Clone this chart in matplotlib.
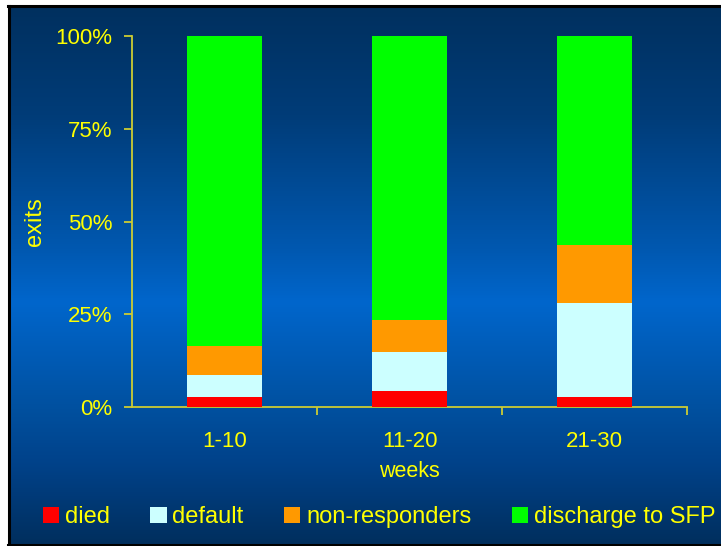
"""
Exits by week group, stacked 100% bars
"""

import numpy as np
import matplotlib
matplotlib.use("Agg")
import matplotlib.pyplot as plt
from matplotlib.colors import LinearSegmentedColormap
from matplotlib.patches import Patch
from matplotlib.lines import Line2D

# data (percent of exits)
weeks = ["1-10", "11-20", "21-30"]
died = [2.7, 4.3, 2.7]
default = [5.9, 10.5, 25.3]
non_responders = [7.8, 8.7, 15.7]
discharge = [83.6, 76.5, 56.3]

series_names = ["died", "default", "non-responders", "discharge to SFP"]
series_colors = ["#FF0000", "#CCFFFF", "#FF9900", "#00FF00"]

yellow = "#FFFF00"
axis_col = "#CCCC33"

plt.rcParams["font.family"] = ["Liberation Sans", "DejaVu Sans"]

fig = plt.figure(figsize=(7.21, 5.46), dpi=100)
W, H = 721, 546

# background gradient (top dark -> bright middle -> dark bottom)
bg = fig.add_axes([10 / W, 2 / H, 1.0, 537 / H])
bg.set_axis_off()
cmap = LinearSegmentedColormap.from_list(
    "bg", [(0.0, "#00305F"), (0.2, "#003C78"), (0.45, "#0058B0"),
           (0.55, "#0066CC"), (0.75, "#00509F"), (0.85, "#00428A"),
           (1.0, "#002F5E")])
grad = np.linspace(0, 1, 256).reshape(-1, 1)
bg.imshow(grad, aspect="auto", cmap=cmap, extent=[0, 1, 0, 1])
bg.set_zorder(-10)

# black frame lines (left, top, bottom)
fig.add_artist(Line2D([9 / W, 9 / W], [1 - 6 / H, 1 / H], color="black", lw=2.2,
                      transform=fig.transFigure))
fig.add_artist(Line2D([8 / W, 1.01], [1 - 6 / H, 1 - 6 / H], color="black", lw=2.2,
                      transform=fig.transFigure))
fig.add_artist(Line2D([8 / W, 1.01], [1 / H, 1 / H], color="black", lw=2.2,
                      transform=fig.transFigure))

ax = fig.add_axes([132 / W, 1 - 407 / H, 555 / W, 371 / H])
ax.patch.set_alpha(0)

x = np.arange(len(weeks))
bottom = np.zeros(len(weeks))
for vals, name, col in zip([died, default, non_responders, discharge],
                           series_names, series_colors):
    ax.bar(x, vals, width=0.405, bottom=bottom, color=col, label=name, zorder=3)
    bottom += np.array(vals)

ax.set_xlim(-0.5, 2.5)
ax.set_ylim(0, 100)
ax.set_yticks([0, 25, 50, 75, 100])
ax.set_yticklabels(["0%", "25%", "50%", "75%", "100%"])
ax.set_xticks(x)
ax.set_xticklabels(weeks)
ax.set_xticks([0.5, 1.5, 2.5], minor=True)

for s in ["top", "right"]:
    ax.spines[s].set_visible(False)
for s in ["left", "bottom"]:
    ax.spines[s].set_color(axis_col)
    ax.spines[s].set_linewidth(1.3)

ax.tick_params(axis="y", colors=axis_col, labelcolor=yellow, labelsize=16,
               length=6, width=1.3, pad=8)
ax.tick_params(axis="x", which="major", length=0, labelcolor=yellow,
               labelsize=16, pad=17)
ax.tick_params(axis="x", which="minor", colors=axis_col, length=6, width=1.3)

ax.set_xlabel("weeks", color=yellow, fontsize=15.5, labelpad=7)
ax.set_ylabel("exits", color=yellow, fontsize=17, labelpad=7)

handles = [Patch(facecolor=c, edgecolor="none") for c in series_colors]
fig.legend(handles, series_names, loc="center", bbox_to_anchor=(0.526, 1 - 517 / H),
           ncol=4, frameon=False, fontsize=17, labelcolor=yellow,
           handlelength=0.68, handleheight=0.68, handletextpad=0.25,
           columnspacing=1.72)

fig.savefig("out.png", dpi=100)
